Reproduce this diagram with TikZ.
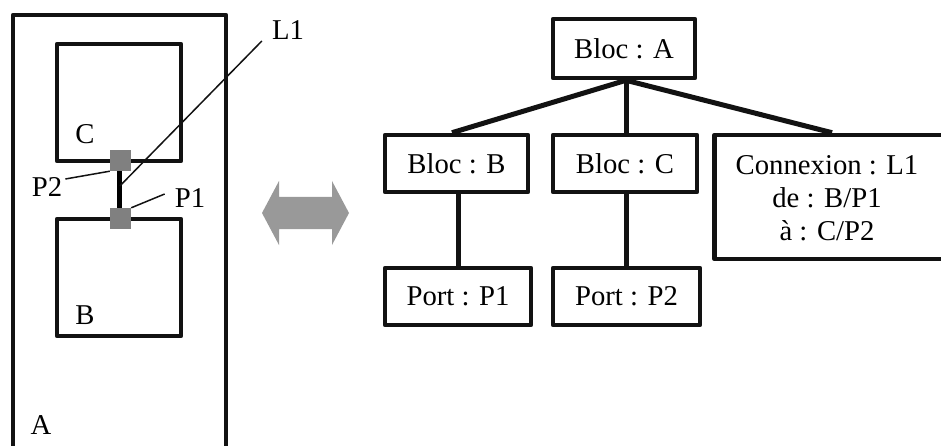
\documentclass[tikz,border=0pt]{standalone}
\usepackage{fontspec}
\setmainfont{Liberation Serif}
\usetikzlibrary{calc}
\tikzset{
  x=1pt,y=-1pt,
  every node/.style={font=\fontsize{28.7}{33}\selectfont},
  thick line/.style={line width=4.6pt,draw=black!93,line join=round},
  entity/.style={thick line,fill=white,rectangle,inner sep=0pt,align=center},
  region/.style={thick line,rectangle,inner sep=0pt,minimum width=124pt,minimum height=117pt},
  port/.style={fill=black!50,rectangle,inner sep=0pt,minimum size=21pt},
  tag/.style={inner sep=0pt},
  leader/.style={line width=1.5pt,draw=black!93},
  wire/.style={line width=5pt,draw=black},
  link/.style={line width=5pt,draw=black!93}
}
\begin{document}
\begin{tikzpicture}
\useasboundingbox (0,0) rectangle (941,446);
% left view
\draw[thick line] (13,446) -- (13,15) -- (226,15) -- (226,446);
\node[region] (rC) at (119,102.5) {};
\node[region] (rB) at (119,277.5) {};
\node[tag] (tC) at (85,134) {C};
\node[tag] (tB) at (85,315) {B};
\node[tag] (tA) at (41,425) {A};
\node[port] (p2) at (120.5,160.5) {};
\node[port] (p1) at (120.5,218.5) {};
\draw[wire] (p2.south -| 119,0) -- (p1.north -| 119,0);
\coordinate (w) at ($(p2.south)!.4!(p1.north)+(-0.5,0)$);
\node[tag] (tL1) at (288,30) {L1};
\node[tag] (tP2) at (47,187) {P2};
\node[tag] (tP1) at (190,198) {P1};
\draw[leader] (w) -- ($(tL1.west)+(-10,11)$);
\draw[leader] ($(tP2.east)+(3,-8)$) -- (p2.south west);
\draw[leader] (p1.north east) -- ($(tP1.west)+(-10,-4)$);
% double arrow
\fill[black!40] (262,213) -- (279,181) -- (279,197) -- (332,197) -- (332,181) -- (349,213)
  -- (332,245) -- (332,229) -- (279,229) -- (279,245) -- cycle;
% tree
\node[entity,minimum width=142pt,minimum height=59pt] (a) at (624,48.5) {Bloc : A};
\node[entity,minimum width=143pt,minimum height=57pt] (b) at (456.5,163.5) {Bloc : B};
\node[entity,minimum width=144pt,minimum height=57pt] (c) at (625,163.5) {Bloc : C};
\node[entity,minimum width=235pt,minimum height=124pt] (l) at (832,197) {};
\node[tag,align=center] (lt) at (827,198.5) {Connexion : L1\\de : B/P1\\à : C/P2};
\node[entity,minimum width=146pt,minimum height=57pt] (pa) at (458,296.5) {Port : P1};
\node[entity,minimum width=147pt,minimum height=57pt] (pb) at (626.5,296.5) {Port : P2};
\draw[link] ([xshift=2pt]a.south) -- ([xshift=-4.5pt]b.north);
\draw[link] ([xshift=2pt]a.south) -- ([xshift=1pt]c.north);
\draw[link] ([xshift=2pt]a.south) -- (l.north);
\draw[link] ([xshift=1.5pt]b.south) -- (pa.north);
\draw[link] ([xshift=1pt]c.south) -- ([xshift=-.5pt]pb.north);
\end{tikzpicture}
\end{document}
